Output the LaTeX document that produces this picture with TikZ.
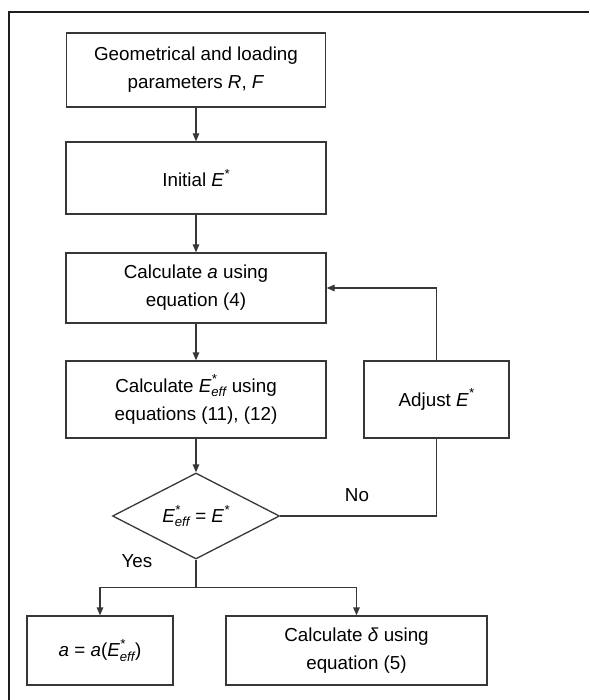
\documentclass[tikz,border=0pt]{standalone}
\usepackage{amsmath}
\usepackage{fontspec}
\setmainfont{Liberation Sans}
\usepackage{tikz}
\usetikzlibrary{shapes.geometric,arrows.meta}
\definecolor{FlowLine}{RGB}{55,55,55}
\definecolor{FlowFrame}{RGB}{30,30,30}
\newcommand{\Estar}{\ensuremath{\textit{E}^{\textit{*}}}}
\newcommand{\Eeff}{\ensuremath{\textit{E}^{\textit{*}}_{\textit{eff}}}}

\begin{document}
\begin{tikzpicture}[x=1pt,y=-1pt,font=\fontsize{18.8}{28}\selectfont,blk/.style 2 args={rectangle,draw=FlowLine,line width=1.3pt,minimum width=#1pt,minimum height=#2pt,align=center,inner sep=0pt},arr/.style={draw=FlowLine,line width=1.3pt,-{Triangle[length=8pt,width=6.5pt]}},lne/.style={draw=FlowLine,line width=1.3pt},dec/.style={diamond,draw=FlowLine,line width=1.3pt,minimum width=167pt,minimum height=86pt,inner sep=0pt,aspect=1.94}]
\useasboundingbox (0,0) rectangle (589,700);
\draw[FlowFrame,line width=2.5pt] (589,12) -- (9,12) -- (9,700);
   \node[blk={259}{74}](b0) at(196,70) {Geometrical and loading\\parameters \textit{R}, \textit{F}};
   \node[blk={260}{72}](b1) at(196,178) {Initial \Estar};
   \node[blk={260}{70}](b2) at(196,288) {Calculate \textit{a} using\\equation (4)};
   \node[blk={260}{77}](b3) at(196,399.5) {Calculate \Eeff{} using\\equations (11), (12)};
   \node[blk={145}{77}](adj) at(436.5,399.5) {Adjust \Estar};
   \node[dec](chk) at(196,516) {\Eeff{} = \Estar};
   \node[blk={146}{69}](b4) at(100,650.5) {\textit{a} = \textit{a}(\Eeff)};
   \node[blk={261}{69}](b5) at(356.5,650.5) {Calculate \textit{δ} using\\equation (5)};
   \node(lno) at(357,495) {No};
   \node(lyes) at(137,561) {Yes};
\foreach \a/\b in %
{b0/b1,b1/b2,b2/b3,b3/chk} {
   \draw[arr] (\a) -- (\b);
}
\draw[lne] (chk.east) -| (adj.south);
\draw[arr] (adj.north) |- (b2.east);
\draw[lne] (chk.south) -- ++(0,28) coordinate(fork);
\draw[arr] (fork) -| (b4.north);
\draw[arr] (fork) -| (b5.north);
\end{tikzpicture}
\end{document}
